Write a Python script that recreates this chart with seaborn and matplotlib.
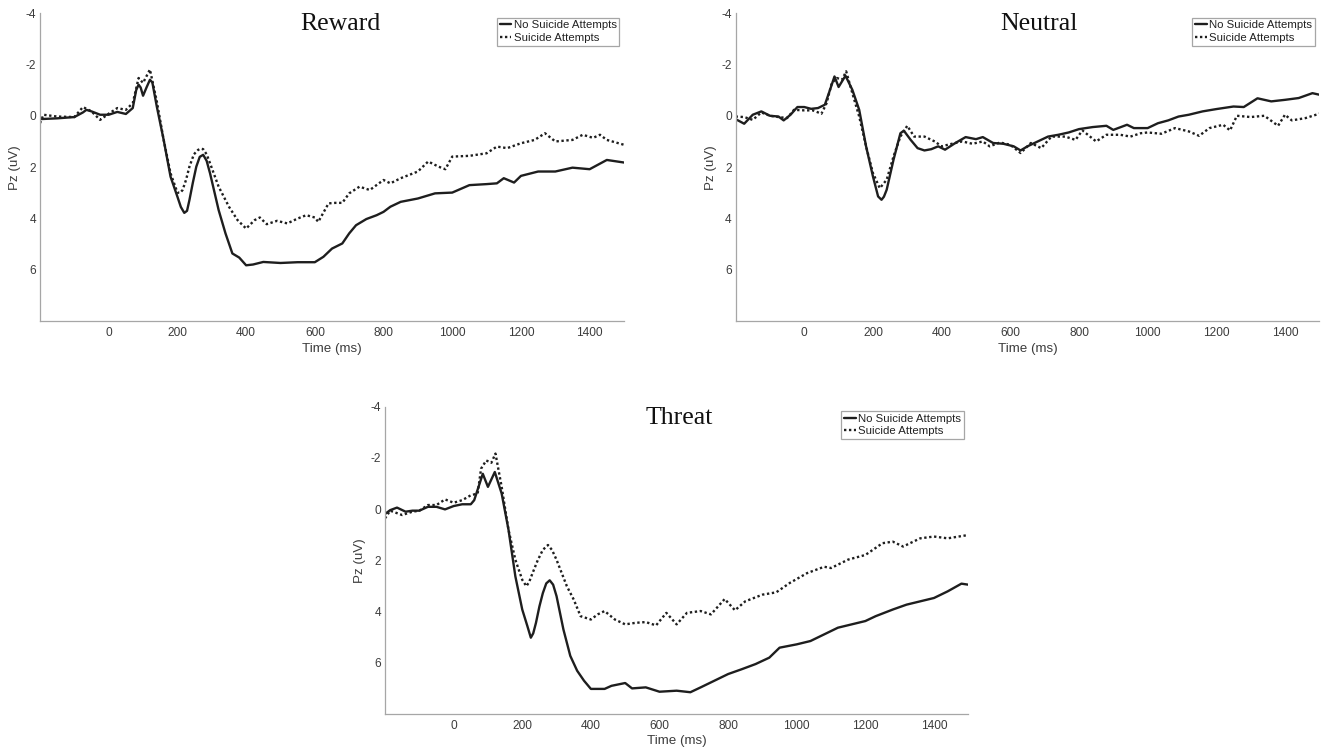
import matplotlib
matplotlib.use("Agg")
import matplotlib.pyplot as plt
import seaborn as sns
import pandas as pd

# ---------------- data ----------------
reward_no_t = [-200, -150, -100, -75, -65, -50, -25, 0, 25, 50, 70, 80, 87, 93, 100, 110, 120, 127, 140,
               160, 180, 200, 210, 220, 228, 235, 245, 255, 265, 275, 285, 295, 320, 340, 360, 380, 400,
               420, 450, 500, 550, 600, 625, 650, 680, 700, 720, 750, 780, 800, 820, 850, 900, 950, 1000,
               1050, 1100, 1130, 1150, 1180, 1200, 1250, 1300, 1350, 1400, 1450, 1500]
reward_no_v = [0.13, 0.10, 0.05, -0.13, -0.23, -0.17, -0.04, -0.04, -0.15, -0.07, -0.30, -1.00, -1.21,
               -1.10, -0.78, -1.10, -1.40, -1.30, -0.36, 0.94, 2.37, 3.15, 3.55, 3.78, 3.70, 3.28, 2.60,
               1.98, 1.60, 1.52, 1.75, 2.24, 3.67, 4.58, 5.36, 5.52, 5.82, 5.79, 5.69, 5.73, 5.70, 5.70,
               5.49, 5.17, 4.97, 4.58, 4.26, 4.02, 3.87, 3.74, 3.54, 3.35, 3.22, 3.02, 2.99, 2.70, 2.66,
               2.63, 2.43, 2.60, 2.34, 2.17, 2.17, 2.02, 2.08, 1.72, 1.82]

reward_sa_t = [-200, -190, -150, -100, -75, -50, -25, 0, 25, 50, 70, 87, 100, 120, 140, 160, 180, 200,
               208, 215, 225, 235, 248, 260, 268, 275, 285, 295, 320, 350, 375, 400, 425, 440, 460, 490,
               520, 550, 575, 600, 610, 640, 660, 680, 700, 730, 760, 800, 820, 850, 900, 930, 960, 980,
               1000, 1050, 1100, 1130, 1160, 1200, 1240, 1270, 1300, 1350, 1380, 1410, 1430, 1450, 1500]
reward_sa_v = [0.29, -0.04, 0.03, 0.05, -0.34, -0.17, 0.16, -0.08, -0.30, -0.23, -0.49, -1.47, -1.28,
               -1.80, -0.56, 0.94, 2.24, 2.99, 3.00, 2.89, 2.50, 1.98, 1.50, 1.33, 1.28, 1.30, 1.50, 1.85,
               2.76, 3.54, 4.06, 4.39, 4.06, 3.96, 4.22, 4.09, 4.19, 4.00, 3.87, 3.96, 4.13, 3.41, 3.39,
               3.39, 3.02, 2.76, 2.89, 2.50, 2.63, 2.43, 2.17, 1.78, 1.98, 2.08, 1.59, 1.56, 1.46, 1.20,
               1.26, 1.07, 0.94, 0.68, 1.00, 0.94, 0.74, 0.86, 0.74, 0.94, 1.13]

neutral_no_t = [-200, -175, -150, -125, -100, -75, -60, -40, -20, 0, 20, 40, 60, 75, 88, 100, 120, 140,
                160, 180, 200, 215, 225, 232, 240, 260, 280, 290, 310, 330, 350, 370, 390, 410, 440, 470,
                500, 520, 550, 580, 610, 630, 650, 680, 710, 740, 770, 800, 840, 880, 900, 940, 960, 1000,
                1030, 1060, 1090, 1120, 1160, 1200, 1250, 1280, 1320, 1360, 1400, 1440, 1480, 1500]
neutral_no_v = [0.13, 0.31, -0.04, -0.17, 0.00, 0.03, 0.18, -0.04, -0.34, -0.34, -0.27, -0.30, -0.43,
                -1.01, -1.53, -1.12, -1.56, -1.01, -0.23, 1.19, 2.36, 3.14, 3.27, 3.15, 2.88, 1.71, 0.68,
                0.58, 0.94, 1.26, 1.35, 1.30, 1.19, 1.32, 1.06, 0.83, 0.91, 0.83, 1.06, 1.09, 1.19, 1.35,
                1.19, 1.00, 0.81, 0.74, 0.65, 0.52, 0.44, 0.39, 0.55, 0.35, 0.48, 0.48, 0.29, 0.18, 0.03,
                -0.04, -0.17, -0.26, -0.36, -0.34, -0.68, -0.56, -0.62, -0.69, -0.88, -0.82]

neutral_sa_t = [-200, -175, -150, -125, -100, -75, -50, -30, 0, 25, 50, 65, 80, 95, 110, 122, 140, 160,
                180, 200, 220, 240, 260, 280, 300, 320, 350, 380, 400, 430, 460, 490, 520, 540, 570, 600,
                630, 660, 690, 720, 760, 790, 810, 850, 880, 920, 950, 980, 1000, 1040, 1080, 1120, 1150,
                1180, 1220, 1240, 1260, 1300, 1340, 1380, 1400, 1420, 1460, 1500]
neutral_sa_v = [0.03, 0.05, 0.16, -0.13, 0.00, 0.05, 0.09, -0.23, -0.21, -0.21, -0.08, -0.49, -1.27,
                -1.47, -1.40, -1.73, -0.88, 0.03, 1.19, 2.23, 2.82, 2.49, 1.58, 0.81, 0.39, 0.81, 0.81,
                1.00, 1.19, 1.09, 1.00, 1.09, 1.00, 1.19, 1.04, 1.13, 1.45, 1.06, 1.26, 0.81, 0.81, 0.94,
                0.57, 1.00, 0.74, 0.74, 0.81, 0.68, 0.65, 0.70, 0.48, 0.61, 0.78, 0.48, 0.35, 0.57, 0.00,
                0.05, 0.00, 0.39, -0.04, 0.18, 0.09, -0.08]

threat_no_t = [-200, -185, -165, -140, -120, -100, -75, -50, -25, 0, 25, 50, 60, 85, 100, 120, 140, 160,
               180, 200, 215, 225, 232, 240, 250, 260, 270, 280, 290, 300, 320, 340, 360, 380, 400, 440,
               460, 500, 520, 560, 600, 650, 690, 720, 760, 800, 840, 880, 920, 950, 1000, 1040, 1080,
               1120, 1160, 1200, 1230, 1280, 1320, 1360, 1400, 1440, 1480, 1500]
threat_no_v = [0.19, 0.04, -0.06, 0.10, 0.06, 0.06, -0.09, -0.09, 0.01, -0.12, -0.19, -0.19, -0.35,
               -1.38, -0.87, -1.45, -0.61, 0.81, 2.63, 3.92, 4.57, 5.02, 4.85, 4.44, 3.80, 3.28, 2.90,
               2.78, 2.95, 3.40, 4.70, 5.73, 6.31, 6.70, 7.02, 7.02, 6.90, 6.79, 7.00, 6.96, 7.13, 7.09,
               7.15, 6.96, 6.70, 6.44, 6.25, 6.05, 5.80, 5.41, 5.28, 5.15, 4.89, 4.63, 4.50, 4.37, 4.18,
               3.92, 3.73, 3.60, 3.47, 3.21, 2.91, 2.95]

threat_sa_t = [-200, -185, -150, -120, -100, -75, -50, -25, 0, 25, 50, 70, 80, 95, 110, 122, 140, 160,
               180, 200, 212, 220, 230, 245, 260, 275, 287, 300, 330, 350, 370, 400, 420, 440, 470, 500,
               530, 560, 590, 620, 650, 680, 720, 750, 790, 820, 850, 900, 940, 980, 1030, 1080, 1100,
               1150, 1200, 1250, 1280, 1310, 1360, 1400, 1440, 1500]
threat_sa_v = [0.36, 0.06, 0.23, 0.10, 0.06, -0.16, -0.16, -0.38, -0.25, -0.35, -0.54, -0.61, -1.58,
               -1.90, -1.81, -2.17, -0.87, 0.81, 1.98, 2.76, 3.01, 2.85, 2.50, 2.00, 1.59, 1.40, 1.60,
               1.98, 3.01, 3.53, 4.18, 4.31, 4.11, 3.98, 4.31, 4.50, 4.44, 4.41, 4.54, 4.05, 4.50, 4.05,
               3.98, 4.11, 3.51, 3.95, 3.60, 3.34, 3.25, 2.88, 2.50, 2.25, 2.30, 1.97, 1.79, 1.33, 1.27,
               1.46, 1.14, 1.07, 1.14, 1.01]

panel_titles = ["Reward", "Neutral", "Threat"]
group_labels = ["No Suicide Attempts", "Suicide Attempts"]
x_ticks = [0, 200, 400, 600, 800, 1000, 1200, 1400]
y_ticks = [-4, -2, 0, 2, 4, 6]

# ---------------- style ----------------
sns.set_style("white")
plt.rcParams["font.family"] = ["Liberation Sans", "DejaVu Sans"]
plt.rcParams["axes.unicode_minus"] = False

W, H = 1322, 751
fig = plt.figure(figsize=(W / 100, H / 100), dpi=100)

LINE = "#1e1e1e"
SPINE = "#a6a6a6"
TXT = "#3c3c3c"

# axes rectangles in pixels: left, right, top, bottom
rects = [(40, 624, 13, 321.3), (735.6, 1319.3, 13, 321.3), (385, 968.3, 406.7, 714)]
title_x = [0.514, 0.52, 0.504]
series = [
    (reward_no_t, reward_no_v, reward_sa_t, reward_sa_v),
    (neutral_no_t, neutral_no_v, neutral_sa_t, neutral_sa_v),
    (threat_no_t, threat_no_v, threat_sa_t, threat_sa_v),
]

for i, (rect, title, (t1, v1, t2, v2)) in enumerate(zip(rects, panel_titles, series)):
    l, r, t, b = rect
    ax = fig.add_axes([l / W, 1 - b / H, (r - l) / W, (b - t) / H])
    df1 = pd.DataFrame({"Time": t1, "Pz": v1})
    df2 = pd.DataFrame({"Time": t2, "Pz": v2})
    sns.lineplot(data=df1, x="Time", y="Pz", ax=ax, color=LINE, lw=1.7,
                 estimator=None, sort=False, label=group_labels[0])
    sns.lineplot(data=df2, x="Time", y="Pz", ax=ax, color=LINE, lw=1.7,
                 estimator=None, sort=False, label=group_labels[1])
    ax.lines[0].set_solid_joinstyle("round")
    ax.lines[1].set_linestyle((0, (1, 1.1)))

    ax.set_xlim(-200, 1500)
    ax.set_ylim(8, -4)
    ax.set_xticks(x_ticks)
    ax.set_yticks(y_ticks)
    sns.despine(ax=ax)
    for s in ("left", "bottom"):
        ax.spines[s].set_color(SPINE)
        ax.spines[s].set_linewidth(0.9)
    ax.tick_params(direction="in", length=3.5, width=0.8, color=SPINE,
                   labelsize=8.6, labelcolor=TXT)
    ax.tick_params(axis="x", pad=4.2)
    ax.tick_params(axis="y", pad=2.8)
    ax.set_xlabel("Time (ms)", fontsize=9.6, color=TXT, labelpad=2.5)
    ax.set_ylabel("Pz (uV)", fontsize=9.6, color=TXT, labelpad=3)

    ax.text(title_x[i], 0.964, title, transform=ax.transAxes, ha="center", va="center",
            fontsize=18.5, family=["Liberation Serif", "DejaVu Serif"], color="#111111")

    leg = ax.legend(loc="upper right", fontsize=8.2, frameon=True, fancybox=False,
                    framealpha=1, edgecolor=SPINE, borderaxespad=0.4, borderpad=0.25,
                    handlelength=1.0, handletextpad=0.2, labelspacing=0.2)
    leg.get_frame().set_linewidth(0.9)
    for txt in leg.get_texts():
        txt.set_color("#222222")

fig.savefig("out.png", dpi=100)
